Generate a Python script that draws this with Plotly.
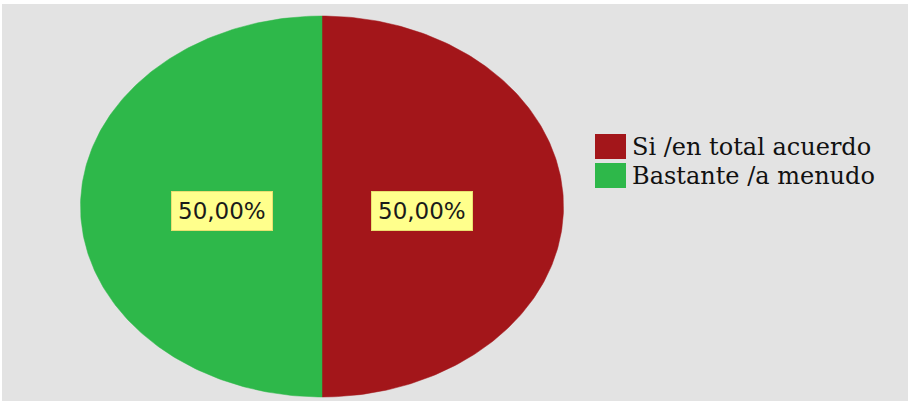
import numpy as np
import plotly.graph_objects as go

categories = ["Si /en total acuerdo", "Bastante /a menudo"]
values = [50.0, 50.0]
label_texts = ["50,00%", "50,00%"]
colors = ["#A3161A", "#2EB84A"]

W, H = 908, 401
CX, CY, RX, RY = 322, 206.5, 241.5, 190.5
LABEL_FRAC = 0.415

fig = go.Figure()

total = sum(values)
start = 0.0
for cat, val, col, lab in zip(categories, values, colors, label_texts):
    a0 = start / total * 2 * np.pi
    a1 = (start + val) / total * 2 * np.pi
    t = np.linspace(a0, a1, 200)
    xs = np.concatenate([[CX], CX + RX * np.sin(t), [CX]])
    ys = np.concatenate([[CY], CY - RY * np.cos(t), [CY]])
    fig.add_trace(go.Scatter(x=xs, y=ys, fill="toself", fillcolor=col,
                             mode="lines", line=dict(color=col, width=0.5),
                             name=cat, showlegend=False, hoverinfo="name"))
    am = (a0 + a1) / 2
    fig.add_annotation(x=CX + LABEL_FRAC * RX * np.sin(am), y=CY - LABEL_FRAC * RY * np.cos(am) + 4,
                       text=lab, showarrow=False, bgcolor="#FFFF8C", bordercolor="#E8E070",
                       borderwidth=1, borderpad=6,
                       font=dict(family="DejaVu Sans", size=23, color="#1a1a1a"))
    start += val

# legend (manual)
LX, LY0, LDY = 595, 146.5, 29
for i, (cat, col) in enumerate(zip(categories, colors)):
    y = LY0 + i * LDY
    fig.add_shape(type="rect", x0=LX, x1=LX + 31, y0=y - 12.5, y1=y + 12.5,
                  fillcolor=col, line=dict(width=0))
    fig.add_annotation(x=LX + 35, y=y, text=cat, xanchor="left", showarrow=False,
                       font=dict(family="DejaVu Serif", size=24, color="#111111"))

fig.add_shape(type="rect", x0=2, x1=W, y0=4, y1=H, fillcolor="#E3E3E3",
              line=dict(width=0), layer="below")

fig.update_layout(width=W, height=H, margin=dict(l=0, r=0, t=0, b=0),
                  paper_bgcolor="white", plot_bgcolor="white", showlegend=False,
                  xaxis=dict(range=[0, W], visible=False, fixedrange=True),
                  yaxis=dict(range=[H, 0], visible=False, fixedrange=True))

fig.write_html("out.html")
